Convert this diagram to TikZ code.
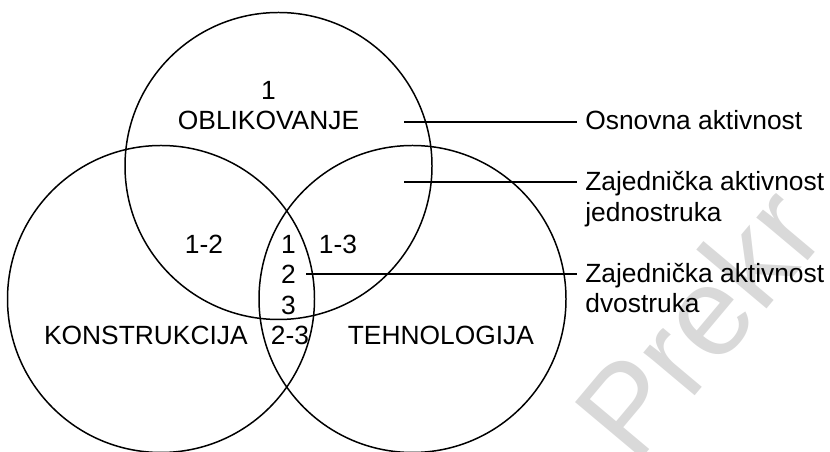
\documentclass[tikz,border=0pt]{standalone}
\usepackage{fontspec}
\setmainfont{Liberation Sans}
\usepackage{tikz}
\usetikzlibrary{shapes}
\definecolor{filigran}{HTML}{D9D9D9}
\tikzset{skup/.style={
    circle,
    minimum size=6.14cm,
    line width=0.85pt,
    draw=black}}
\tikzset{oznaka/.style={
    inner sep=0pt,
    align=center,
    anchor=base,
    font=\fontsize{15}{17.4}\selectfont}}
\tikzset{opis/.style={
    inner xsep=0.16cm,
    inner ysep=0pt,
    align=left,
    anchor=base west,
    font=\fontsize{15}{17.6}\selectfont}}

\begin{document}
\begin{tikzpicture}

\useasboundingbox (0,0) rectangle (16.6,9.04);

% filigran, ispod svega
\begin{scope}
\clip (0,0) rectangle (16.6,9.04);
\node[inner sep=0pt,
  anchor=base west,
  rotate=50,
  filigran,
  font=\fontsize{72}{80}\selectfont] (fil) at (12.7,-0.3) {Prekr};
\end{scope}

\coordinate (O) at (5.57,5.72);
\coordinate (K) at (3.22,3.06);
\coordinate (T) at (8.25,3.06);

% tri skupa
\node[skup] (o) at (O) {};
\node[skup] (k) at (K) {};
\node[skup] (t) at (T) {};

% base je na zadnjem retku
\node[oznaka] (o1) at (5.37,6.44) {1\\OBLIKOVANJE};
\node[oznaka] (k1) at (2.917,2.154) {KONSTRUKCIJA};
\node[oznaka] (t1) at (8.817,2.154) {TEHNOLOGIJA};
\node[oznaka] (ok) at (4.08,3.974) {1-2};
\node[oznaka] (ot) at (6.76,3.974) {1-3};
\node[oznaka] (kt) at (5.8,2.154) {2-3};
\node[oznaka] (okt) at (5.77,2.754) {1\\2\\3};

% opisi desno
\coordinate (p1) at (8.08,6.6);
\coordinate (p2) at (8.08,5.4);
\coordinate (p3) at (6.12,3.56);

\node[opis] (osnovna) at (11.54,6.44) {Osnovna aktivnost};
\node[opis] (jedn) at (11.54,4.606) {Zajednička aktivnost\\jednostruka};
\node[opis] (dvos) at (11.54,2.78) {Zajednička aktivnost\\dvostruka};

\draw[line width=0.85pt] (p1) -- (p1 -| osnovna.west);
\draw[line width=0.85pt] (p2) -- (p2 -| jedn.west);
\draw[line width=0.85pt] (p3) -- (p3 -| dvos.west);

\end{tikzpicture}
\end{document}
